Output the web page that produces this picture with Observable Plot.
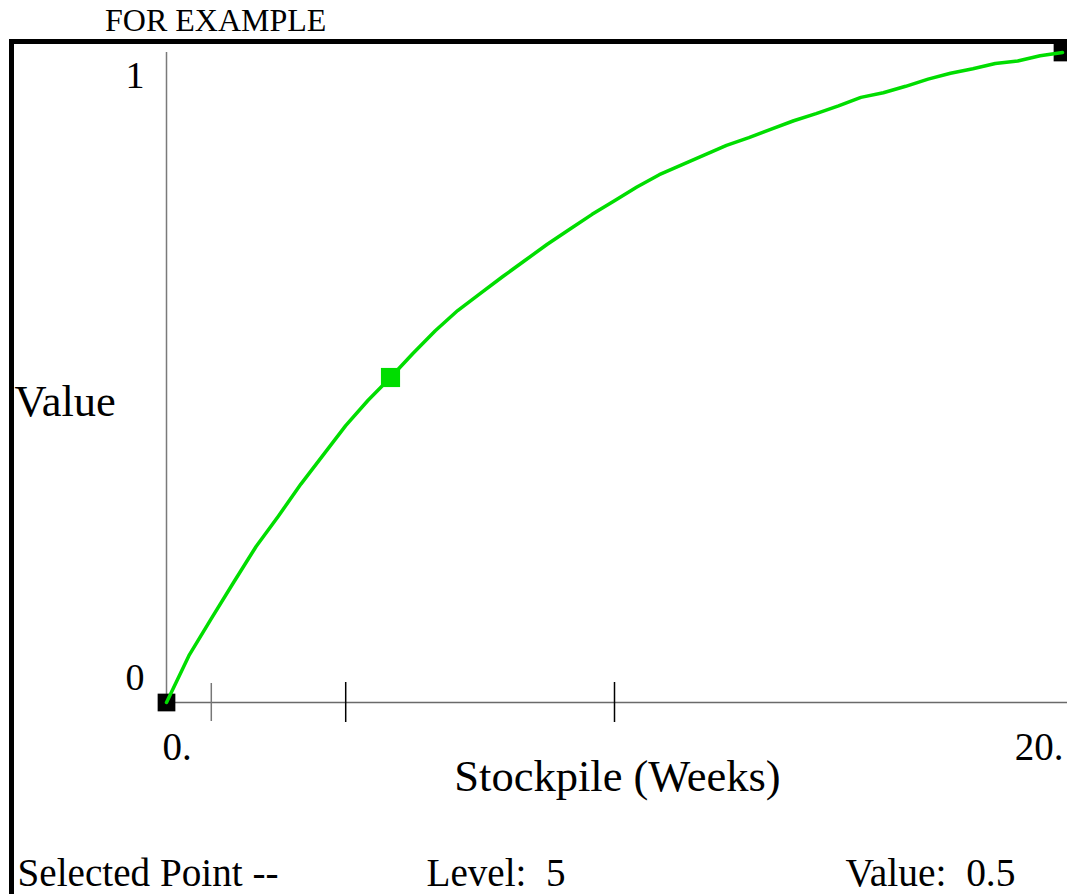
<!DOCTYPE html>
<html>
<head>
<meta charset="utf-8">
<script src="https://cdn.jsdelivr.net/npm/d3@7"></script>
<script src="https://cdn.jsdelivr.net/npm/@observablehq/plot@0.6"></script>
<style>
  html, body { margin: 0; padding: 0; background: #fff; }
  #wrap { position: relative; width: 1067px; height: 894px; overflow: hidden; font-family: "Liberation Serif", "Times New Roman", serif; }
  #title { position: absolute; left: 105px; top: 1px; font-family: "Liberation Serif", "Times New Roman", serif; font-size: 32px; line-height: 39px; color: #000; white-space: pre; }
  #box { position: absolute; left: 9px; top: 39px; width: 1058px; height: 855px; box-sizing: border-box; border-top: 5px solid #000; border-left: 5px solid #000; }
  #chart { position: absolute; left: 14px; top: 44px; }
</style>
</head>
<body>
<div id="wrap">
  <div id="title">FOR EXAMPLE</div>
  <div id="box"></div>
  <div id="chart"></div>
</div>
<script>
// Stockpile (weeks) levels of the lookup table
const weeks = [0, 0.5, 1, 1.5, 2, 2.5, 3, 3.5, 4, 4.5, 5, 5.5, 6, 6.5, 7, 7.5, 8, 8.5, 9, 9.5, 10,
               10.5, 11, 11.5, 12, 12.5, 13, 13.5, 14, 14.5, 15, 15.5, 16, 16.5, 17, 17.5, 18, 18.5, 19, 19.5, 20];
// Value
const values = [0, 0.072, 0.129, 0.185, 0.240, 0.287, 0.336, 0.381, 0.426, 0.465, 0.5,
                0.537, 0.572, 0.603, 0.629, 0.655, 0.680, 0.705, 0.728, 0.751, 0.772,
                0.793, 0.812, 0.827, 0.842, 0.857, 0.869, 0.882, 0.895, 0.906, 0.918,
                0.931, 0.938, 0.948, 0.959, 0.968, 0.975, 0.983, 0.987, 0.995, 1.0];
// Selected point
const selectedLevel = [5];
const selectedValue = [0.5];
// Axis ticks and labels
const minorTicks = [1];
const majorTicks = [4, 10];
const xTickLabels = ["0.", "20."];
const yTickLabels = ["0", "1"];
const xTitle = "Stockpile (Weeks)";
const yTitle = "Value";
const statusTexts = ["Selected Point --", "Level:  5", "Value:  0.5"];

const curve = weeks.map((w, i) => ({w, v: values[i]}));
const endpoints = [curve[0], curve[curve.length - 1]];
const selected = selectedLevel.map((w, i) => ({w, v: selectedValue[i]}));

const serif = "'Liberation Serif', 'Times New Roman', serif";
const green = "#00dd00";

const chart = Plot.plot({
  width: 1053,
  height: 850,
  marginLeft: 152,
  marginRight: 5,
  marginTop: 8,
  marginBottom: 192,
  x: {domain: [0, 20], axis: null},
  y: {domain: [0, 1], axis: null},
  style: {fontFamily: serif, background: "transparent", overflow: "visible", color: "#000"},
  marks: [
    // axis lines
    Plot.ruleX([0], {y1: 0, y2: 1, stroke: "#7a7a7a", strokeWidth: 1.5}),
    Plot.ruleY([0], {stroke: "#6a6a6a", strokeWidth: 1.5, insetRight: -10}),
    // tick marks crossing the x axis
    Plot.ruleX(minorTicks, {y1: 0, y2: 0, insetTop: -19, insetBottom: -19, stroke: "#777", strokeWidth: 1.5}),
    Plot.ruleX(majorTicks, {y1: 0, y2: 0, insetTop: -20, insetBottom: -20, stroke: "#000", strokeWidth: 1.5}),
    // tick labels
    Plot.text([xTickLabels[0]], {x: 0, y: 0, text: d => d, textAnchor: "start", lineAnchor: "bottom", dx: -4, dy: 57, fontSize: 39}),
    Plot.text([xTickLabels[1]], {x: 20, y: 0, text: d => d, textAnchor: "end", lineAnchor: "bottom", dx: 1, dy: 57, fontSize: 39}),
    Plot.text([yTickLabels[0]], {x: 0, y: 0, text: d => d, textAnchor: "end", lineAnchor: "bottom", dx: -22, dy: -13, fontSize: 38}),
    Plot.text([yTickLabels[1]], {x: 0, y: 1, text: d => d, textAnchor: "end", lineAnchor: "bottom", dx: -22, dy: 35, fontSize: 38}),
    // axis titles
    Plot.text([yTitle], {frameAnchor: "left", text: d => d, textAnchor: "start", lineAnchor: "bottom", dx: -152, dy: 38, fontSize: 44.5}),
    Plot.text([xTitle], {frameAnchor: "bottom", text: d => d, textAnchor: "middle", lineAnchor: "bottom", dx: 3, dy: 88, fontSize: 44.5}),
    // status line
    Plot.text([statusTexts[0]], {frameAnchor: "bottom-left", text: d => d, textAnchor: "start", lineAnchor: "bottom", dx: -149, dy: 183, fontSize: 39}),
    Plot.text([statusTexts[1]], {frameAnchor: "bottom-left", text: d => d, textAnchor: "start", lineAnchor: "bottom", dx: 260, dy: 183, fontSize: 39}),
    Plot.text([statusTexts[2]], {frameAnchor: "bottom-left", text: d => d, textAnchor: "start", lineAnchor: "bottom", dx: 679, dy: 183, fontSize: 39}),
    // end points
    Plot.dot(endpoints, {x: "w", y: "v", symbol: "square", r: 10, fill: "#000"}),
    // curve
    Plot.line(curve, {x: "w", y: "v", stroke: green, strokeWidth: 3.5, curve: "linear"}),
    // selected point
    Plot.dot(selected, {x: "w", y: "v", symbol: "square", r: 10.8, fill: green})
  ]
});

document.getElementById("chart").appendChild(chart);

// condensed status-line text widths
const widths = {"Selected Point --": 261, "Level:  5": 139, "Value:  0.5": 170};
d3.select(chart).selectAll("text").each(function() {
  const t = this.textContent;
  if (widths[t] !== undefined) {
    this.setAttribute("textLength", widths[t]);
    this.setAttribute("lengthAdjust", "spacingAndGlyphs");
    this.setAttribute("xml:space", "preserve");
    this.style.whiteSpace = "pre";
  }
});
</script>
</body>
</html>
